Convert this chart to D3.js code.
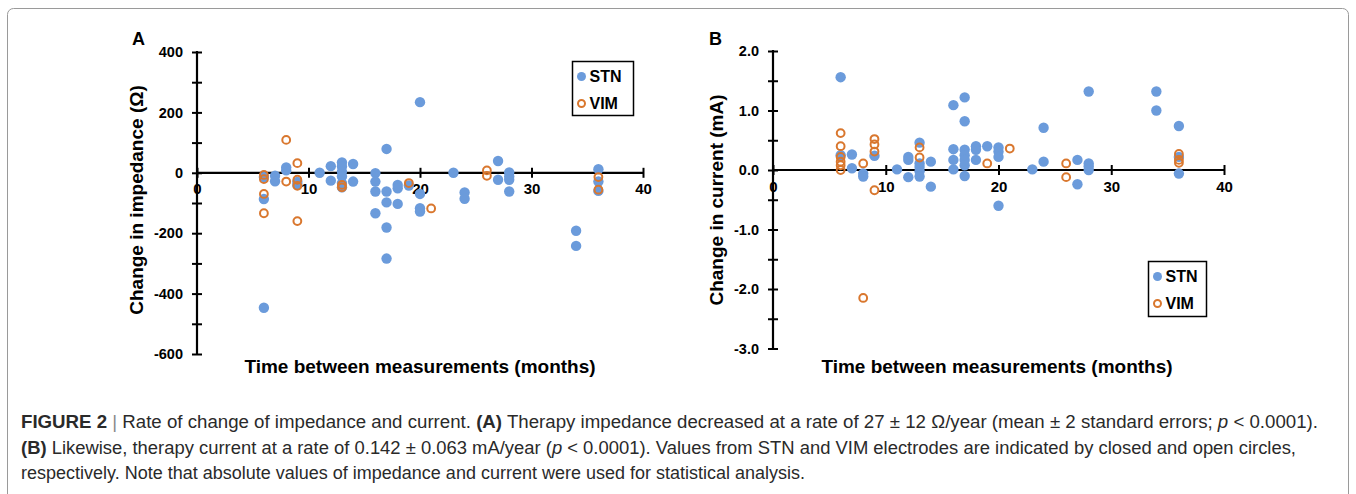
<!DOCTYPE html>
<html>
<head>
<meta charset="utf-8">
<script src="https://cdn.jsdelivr.net/npm/d3@7"></script>
<style>
  html, body { margin: 0; padding: 0; background: #fff; }
  svg { display: block; }
  text { font-family: "Liberation Sans", Arial, sans-serif; }
</style>
</head>
<body>
<svg id="fig" width="1356" height="494"></svg>
<script>
// ---- data (months, change) ----
var impStn = [
  [6, -87], [6, -447], [6, -14], [7, -10], [7, -28], [8, 18], [8, 8], [9, -30], [9, -40],
  [11, 0], [12, 22], [12, -26], [13, 34], [13, 21], [13, 4], [13, -12], [13, -34], [13, -48],
  [14, 29], [14, -29], [16, -1], [16, -29], [16, -62], [16, -134],
  [17, 79], [17, -62], [17, -98], [17, -181], [17, -284], [18, -40], [18, -51], [18, -103],
  [19, -42], [20, 234], [20, -70], [20, -117], [20, -128], [23, 0], [24, -65], [24, -86],
  [27, 39], [27, -23], [28, 1], [28, -12], [28, -23], [28, -62], [34, -192], [34, -242],
  [36, 12], [36, -29], [36, -60]
];
var impVim = [
  [6, -7], [6, -21], [6, -70], [6, -134], [8, 109], [8, -29], [9, 32], [9, -23], [9, -43], [9, -160],
  [13, -40], [13, -48], [19, -34], [21, -118], [26, 8], [26, -10], [36, -14], [36, -56]
];
var curStn = [
  [6, 1.56], [6, 0.25], [7, 0.26], [7, 0.03], [8, -0.06], [8, -0.11], [9, 0.24], [11, 0.01],
  [12, 0.22], [12, 0.17], [12, -0.12], [13, 0.46], [13, 0.11], [13, 0.05], [13, -0.02], [13, -0.11],
  [14, 0.14], [14, -0.28], [16, 1.09], [16, 0.35], [16, 0.17], [16, 0.01],
  [17, 1.22], [17, 0.82], [17, 0.34], [17, 0.25], [17, 0.17], [17, 0.08], [17, -0.10],
  [18, 0.40], [18, 0.34], [18, 0.17], [19, 0.40], [20, 0.38], [20, 0.31], [20, 0.22], [20, -0.60],
  [23, 0.01], [24, 0.71], [24, 0.14], [27, 0.17], [27, -0.24], [28, 1.32], [28, 0.11], [28, 0.06], [28, 0.0],
  [34, 1.32], [34, 1.00], [36, 0.74], [36, 0.22], [36, -0.06]
];
var curVim = [
  [6, 0.62], [6, 0.40], [6, 0.22], [6, 0.14], [6, 0.08], [6, 0.0], [8, 0.11], [8, -2.15],
  [9, 0.52], [9, 0.43], [9, 0.31], [9, -0.34], [13, 0.38], [13, 0.21], [19, 0.11], [21, 0.36],
  [26, 0.11], [26, -0.12], [36, 0.27], [36, 0.17], [36, 0.12]
];
var xTicks = [0, 10, 20, 30, 40];
var impTicks = [400, 200, 0, -200, -400, -600];
var curTicks = ["2.0", "1.0", "0.0", "-1.0", "-2.0", "-3.0"];
var seriesNames = ["STN", "VIM"];

var blue = "#6b9bdb", orange = "#d9772e";
var svg = d3.select("#fig");

// outer frame
svg.append("rect")
  .attr("x", 7.5).attr("y", 8.5).attr("width", 1341).attr("height", 520)
  .attr("rx", 6).attr("fill", "none").attr("stroke", "#9a9a9a").attr("stroke-width", 1);

function panel(o) {
  var x = d3.scaleLinear().domain([0, 40]).range(o.xr);
  var y = d3.scaleLinear().domain(o.yd).range(o.yr);
  var g = svg.append("g");

  // y axis
  var ya = d3.axisLeft(y).tickValues(d3.range(o.yd[0], o.yd[1] + o.minor / 2, o.minor))
    .tickSize(0).tickPadding(14)
    .tickFormat(function (d) {
      var k = Math.round((d - o.yd[0]) / o.major * 1000) / 1000;
      return Number.isInteger(k) ? o.fmt(d) : "";
    });
  var yg = g.append("g").attr("transform", "translate(" + x(0) + ",0)").call(ya);
  yg.select(".domain").remove();
  yg.selectAll(".tick line").attr("x1", -5).attr("x2", 5).attr("stroke", "#000").attr("stroke-width", 2);
  yg.selectAll(".tick text").attr("font-size", 14.5).attr("font-weight", "bold")
    .attr("fill", "#000").attr("font-family", "Liberation Sans, Arial, sans-serif");
  g.append("line").attr("x1", x(0)).attr("x2", x(0)).attr("y1", y(o.yd[1]) - 1).attr("y2", y(o.yd[0]) + 1)
    .attr("stroke", "#000").attr("stroke-width", 2.2);

  // x axis
  var xa = d3.axisBottom(x).tickValues(xTicks).tickSize(0).tickPadding(11);
  var xg = g.append("g").attr("transform", "translate(0," + y(0) + ")").call(xa);
  xg.select(".domain").remove();
  xg.selectAll(".tick line").attr("y1", -5).attr("y2", 5).attr("stroke", "#000").attr("stroke-width", 2);
  xg.selectAll(".tick text").attr("font-size", 15).attr("font-weight", "bold")
    .attr("fill", "#000").attr("font-family", "Liberation Sans, Arial, sans-serif");
  g.append("line").attr("x1", x(0)).attr("x2", x(40) + 1).attr("y1", y(0)).attr("y2", y(0))
    .attr("stroke", "#000").attr("stroke-width", 2.2);

  // points: STN filled, VIM open rings on top
  g.selectAll("circle.stn").data(o.stn).enter().append("circle")
    .attr("class", "stn")
    .attr("cx", function (d) { return x(d[0]); })
    .attr("cy", function (d) { return y(d[1]); })
    .attr("r", 5.2).attr("fill", blue);
  g.selectAll("circle.vim").data(o.vim).enter().append("circle")
    .attr("class", "vim")
    .attr("cx", function (d) { return x(d[0]); })
    .attr("cy", function (d) { return y(d[1]); })
    .attr("r", 3.9).attr("fill", "none").attr("stroke", orange).attr("stroke-width", 2);

  // titles
  g.append("text").attr("x", o.letter[0]).attr("y", o.letter[1])
    .attr("font-size", 18).attr("font-weight", "bold").text(o.name);
  g.append("text")
    .attr("transform", "translate(" + o.ylab[0] + "," + o.ylab[1] + ") rotate(-90)")
    .attr("text-anchor", "middle").attr("font-size", 19).attr("font-weight", "bold")
    .text(o.ytitle);
  g.append("text").attr("x", o.xlab[0]).attr("y", o.xlab[1])
    .attr("text-anchor", "middle").attr("font-size", 19).attr("font-weight", "bold")
    .text("Time between measurements (months)");

  // legend
  var L = o.legend;
  g.append("rect").attr("x", L[0]).attr("y", L[1]).attr("width", L[2]).attr("height", L[3])
    .attr("fill", "#fff").attr("stroke", "#000").attr("stroke-width", 1.5);
  seriesNames.forEach(function (s, i) {
    var cy = L[1] + 15 + i * 27;
    if (i === 0) {
      g.append("circle").attr("cx", L[0] + 9).attr("cy", cy).attr("r", 4.5).attr("fill", blue);
    } else {
      g.append("circle").attr("cx", L[0] + 9).attr("cy", cy).attr("r", 3.5)
        .attr("fill", "none").attr("stroke", orange).attr("stroke-width", 2);
    }
    g.append("text").attr("x", L[0] + 17).attr("y", cy + 5.5)
      .attr("font-size", 16).attr("font-weight", "bold").text(s);
  });
}

panel({
  name: "A", letter: [132, 45],
  xr: [197, 643], yd: [-600, 400], yr: [354, 52], minor: 100, major: 200,
  fmt: function (d) { return String(impTicks[impTicks.indexOf(d)]); },
  stn: impStn, vim: impVim,
  ytitle: "Change in impedance (Ω)", ylab: [143, 200], xlab: [420, 373],
  legend: [572.5, 61.5, 61, 54]
});

panel({
  name: "B", letter: [709, 45],
  xr: [773, 1224], yd: [-3, 2], yr: [348.5, 51], minor: 0.5, major: 1,
  fmt: function (d) { return curTicks[2 - Math.round(d)]; },
  stn: curStn, vim: curVim,
  ytitle: "Change in current (mA)", ylab: [723, 200], xlab: [997, 373],
  legend: [1148.5, 261.5, 58, 55]
});

// caption
var cap = svg.append("g").attr("fill", "#2a2a2a").attr("font-size", 17.5);
var t1 = cap.append("text").attr("x", 21).attr("y", 428).attr("textLength", 1297).attr("lengthAdjust", "spacingAndGlyphs");
t1.append("tspan").attr("font-weight", "bold").text("FIGURE 2");
t1.append("tspan").attr("fill", "#888").text(" | ");
t1.append("tspan").text("Rate of change of impedance and current. ");
t1.append("tspan").attr("font-weight", "bold").text("(A)");
t1.append("tspan").text(" Therapy impedance decreased at a rate of 27 \u00b1 12 \u03a9/year (mean \u00b1 2 standard errors; ");
t1.append("tspan").attr("font-style", "italic").text("p");
t1.append("tspan").text(" < 0.0001).");

var t2 = cap.append("text").attr("x", 21).attr("y", 454).attr("textLength", 1275).attr("lengthAdjust", "spacingAndGlyphs");
t2.append("tspan").attr("font-weight", "bold").text("(B)");
t2.append("tspan").text(" Likewise, therapy current at a rate of 0.142 \u00b1 0.063 mA/year (");
t2.append("tspan").attr("font-style", "italic").text("p");
t2.append("tspan").text(" < 0.0001). Values from STN and VIM electrodes are indicated by closed and open circles,");

cap.append("text").attr("x", 21).attr("y", 479).attr("textLength", 784).attr("lengthAdjust", "spacingAndGlyphs")
  .text("respectively. Note that absolute values of impedance and current were used for statistical analysis.");
</script>
</body>
</html>
